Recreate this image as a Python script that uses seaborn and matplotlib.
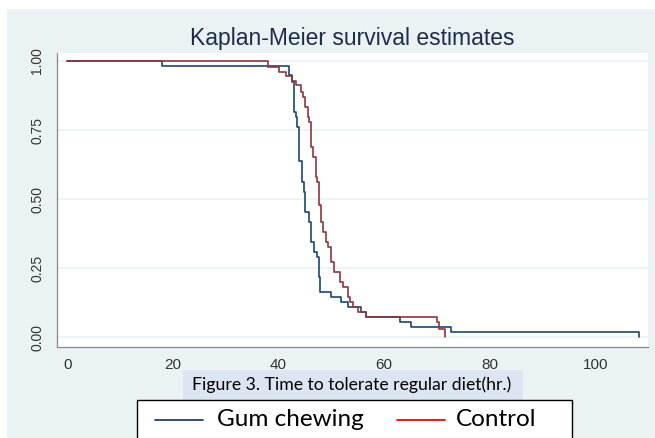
import numpy as np
import pandas as pd
import matplotlib
matplotlib.use("Agg")
import matplotlib.pyplot as plt
from matplotlib.patches import Rectangle
from matplotlib.lines import Line2D
import seaborn as sns

# Kaplan-Meier step values
gum_time = [0, 17.9, 42.05, 42.65, 42.85, 43.25, 43.55, 43.96, 44.46, 44.86, 45.06, 45.76, 46.17,
            46.77, 47.37, 47.67, 47.87, 49.98, 51.89, 53.1, 55.61, 56.61, 62.94, 65.15, 72.68, 108.34]
gum_surv = [1.0, 0.982, 0.949, 0.925, 0.816, 0.798, 0.762, 0.638, 0.563, 0.527, 0.454, 0.418, 0.345,
            0.309, 0.289, 0.218, 0.164, 0.144, 0.127, 0.110, 0.091, 0.074, 0.056, 0.037, 0.019, 0.0]

ctrl_time = [0, 37.93, 40.04, 41.45, 42.55, 43.36, 44.26, 44.56, 45.06, 45.56, 45.86, 46.17, 46.47,
             47.07, 47.37, 47.67, 47.97, 48.48, 48.98, 49.38, 49.98, 50.59, 51.59, 52.19, 53.1,
             53.6, 54.2, 55.01, 56.61, 69.97, 70.47, 71.58]
ctrl_surv = [1.0, 0.98, 0.961, 0.946, 0.929, 0.913, 0.889, 0.871, 0.834, 0.798, 0.780, 0.690, 0.653,
             0.581, 0.563, 0.478, 0.418, 0.382, 0.345, 0.327, 0.273, 0.237, 0.200, 0.180, 0.146,
             0.128, 0.110, 0.092, 0.074, 0.056, 0.031, 0.0]

groups = ["Gum chewing", "Control"]
x_ticks = [0, 20, 40, 60, 80, 100]
y_ticks = [0.0, 0.25, 0.5, 0.75, 1.0]

df = pd.concat([
    pd.DataFrame({"time": gum_time, "surv": gum_surv, "group": groups[0]}),
    pd.DataFrame({"time": ctrl_time, "surv": ctrl_surv, "group": groups[1]}),
], ignore_index=True)

sns.set_style("white")
plt.rcParams["font.family"] = ["Liberation Sans", "DejaVu Sans"]

bg = "#EAF2F3"
fig = plt.figure(figsize=(6.55, 4.38), dpi=100, facecolor="white")

# stata-like bluish background
fig.patches.append(Rectangle((7 / 655, 0), 1, 1 - 9 / 438, transform=fig.transFigure,
                             facecolor=bg, edgecolor="none", zorder=-5))

ax = fig.add_axes([57 / 655, 1 - 347 / 438, 591 / 655, 294 / 438])
ax.set_facecolor("white")

sns.lineplot(data=df, x="time", y="surv", hue="group", hue_order=groups,
             palette=["#1A476F", "#90353B"], drawstyle="steps-post",
             estimator=None, sort=False, linewidth=1.2, legend=False, ax=ax)

ax.set_xlim(-1.95, 110.0)
ax.set_ylim(-0.036, 1.029)
ax.set_xticks(x_ticks)
ax.set_xticklabels([str(v) for v in x_ticks], fontsize=11, color="#333333")
ax.set_yticks(y_ticks)
ax.set_yticklabels([f"{v:.2f}" for v in y_ticks], fontsize=10, color="#333333",
                   rotation=90, va="center")
ax.tick_params(axis="x", direction="out", length=4.5, width=0.8, color="#666666", pad=3.5)
ax.tick_params(axis="y", direction="out", length=5, width=0.8, color="#666666", pad=4)
ax.set_xlabel("")
ax.set_ylabel("")
ax.yaxis.grid(True, color=bg, linewidth=1.2)
ax.set_axisbelow(True)
for side in ["top", "right"]:
    ax.spines[side].set_visible(False)
for side in ["left", "bottom"]:
    ax.spines[side].set_color("#888888")
    ax.spines[side].set_linewidth(0.9)

fig.text(352 / 655, 1 - 38 / 438, "Kaplan-Meier survival estimates", ha="center", va="center",
         fontsize=16.5, color="#1E2D4F")

# caption box
fig.patches.append(Rectangle((183 / 655, 1 - 400 / 438), 340 / 655, 30 / 438,
                             transform=fig.transFigure, facecolor="#DCE6F2",
                             edgecolor="none", zorder=1))
fig.text(352 / 655, 1 - 385 / 438, "Figure 3. Time to tolerate regular diet(hr.)",
         ha="center", va="center", fontsize=12.7, family=["Lato", "DejaVu Sans"], color="black",
         zorder=2)

# legend box
fig.patches.append(Rectangle((137 / 655, -0.02), 435 / 655, 1 - 400 / 438 + 0.02,
                             transform=fig.transFigure, facecolor="white",
                             edgecolor="black", linewidth=1, zorder=1))
ly = 1 - 420 / 438
fig.lines.append(Line2D([155 / 655, 203 / 655], [ly, ly], transform=fig.transFigure,
                        color="#1F3F6F", linewidth=1.3, zorder=2))
fig.lines.append(Line2D([397 / 655, 445 / 655], [ly, ly], transform=fig.transFigure,
                        color="#FF0000", linewidth=1.3, zorder=2))
fig.text(217 / 655, ly, "Gum chewing", ha="left", va="center", fontsize=17.5,
         family=["Lato", "DejaVu Sans"], color="black", zorder=2)
fig.text(456 / 655, ly, "Control", ha="left", va="center", fontsize=17.5,
         family=["Lato", "DejaVu Sans"], color="black", zorder=2)

fig.savefig("out.png", dpi=100, facecolor=fig.get_facecolor())
